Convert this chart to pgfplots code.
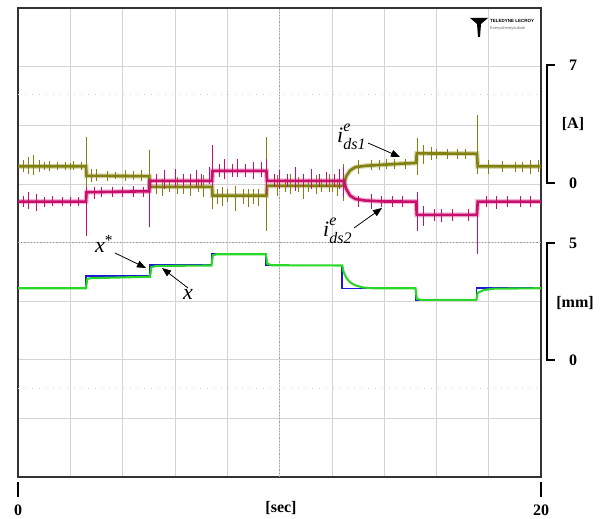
\documentclass[border=0pt]{standalone}
\usepackage{pgfplots}
\pgfplotsset{compat=1.18}
\usepackage{fontspec}
\setmainfont{Liberation Serif}
\setsansfont{Liberation Sans}
\usetikzlibrary{arrows.meta}
\definecolor{olivetr}{RGB}{130,128,15}
\definecolor{magtr}{RGB}{200,15,110}
\definecolor{gtr}{RGB}{40,215,40}
\definecolor{btr}{RGB}{25,25,215}
\definecolor{gridc}{RGB}{212,212,212}
\pgfplotsset{base/.style={scale only axis, width=523pt, height=469pt, at={(0pt,0pt)}, anchor=south west, xmin=0, xmax=20, clip=true}}
\newcommand\ilabel[1]{{\fontsize{22}{26}\selectfont\itshape i}\rlap{\raisebox{11pt}{\fontsize{16}{16}\selectfont\itshape e}}\raisebox{-7pt}{\fontsize{16}{16}\selectfont\itshape ds#1}}
\pgfplotstableread{
t i
0 1.05
2.6 1.05
2.62 0.48
5.02 0.46
5.04 -0.18
7.42 -0.18
7.44 -0.7
9.5 -0.7
9.52 -0.12
12.45 -0.12
12.55 0.45
12.7 0.8
12.9 1.0
13.3 1.08
14.6 1.2
15.22 1.25
15.25 1.82
17.55 1.8
17.58 1.04
20 1.04
}\idsone
\pgfplotstableread{
t i
0 -1.06
2.6 -1.06
2.62 -0.5
5.02 -0.44
5.04 0.18
7.42 0.18
7.44 0.78
9.5 0.78
9.52 0.18
12.45 0.18
12.55 -0.3
12.7 -0.7
12.9 -0.9
13.3 -1.0
14.0 -1.05
15.22 -1.06
15.25 -1.85
17.55 -1.85
17.58 -1.06
20 -1.06
}\idstwo
\begin{document}
\begin{tikzpicture}[x=1pt,y=1pt]
\path[use as bounding box] (-18,-42) rectangle (585,477);
% grid axis
\begin{axis}[base, ymin=0, ymax=8, xtick={0,2,...,20}, ytick={0,1,...,8},
  xticklabels={}, yticklabels={}, major tick length=0pt, grid=major,
  grid style={gridc, line width=0.6pt}, axis line style={black!80, line width=1.3pt}]
\addplot[gray!75, dash pattern=on 1.2pt off 2pt, line width=0.7pt] coordinates {(10,0) (10,8)};
\addplot[gray!75, dash pattern=on 1.2pt off 2pt, line width=0.7pt] coordinates {(0,4) (20,4)};
\addplot[gridc, dash pattern=on 1pt off 6pt, line width=0.7pt] coordinates {(0,6.52) (20,6.52)};
\addplot[gridc, dash pattern=on 1pt off 6pt, line width=0.7pt] coordinates {(0,1.52) (20,1.52)};
\end{axis}
% currents
\begin{axis}[base, ymin=-17.5, ymax=10.5, hide axis, unbounded coords=jump]
\addplot[olivetr, line width=5pt, opacity=0.3] table[x=t,y=i] {\idsone};
\addplot[olivetr, line width=0.45pt] coordinates {
(0.2,0.7)(0.2,1.4)(0.2,nan)(0.4,0.6)(0.4,1.6)(0.4,nan)(0.6,0.5)(0.6,1.7)(0.6,nan)(0.8,0.7)(0.8,1.4)(0.8,nan)
(1.0,0.8)(1.0,1.3)(1.0,nan)(1.2,0.75)(1.2,1.35)(1.2,nan)(1.5,0.8)(1.5,1.3)(1.5,nan)(1.8,0.8)(1.8,1.3)(1.8,nan)(2.0,0.85)(2.0,1.25)(2.0,nan)(2.1,0.8)(2.1,1.35)(2.1,nan)(2.4,0.85)(2.4,1.3)(2.4,nan)
(2.6,-0.2)(2.6,2.8)(2.6,nan)(2.8,0.1)(2.8,0.9)(2.8,nan)(3.0,0.2)(3.0,0.9)(3.0,nan)(3.4,0.2)(3.4,0.75)(3.4,nan)(3.7,0.3)(3.7,0.7)(3.7,nan)(4.1,0.2)(4.1,0.8)(4.1,nan)(4.4,0.25)(4.4,0.75)(4.4,nan)(4.7,0.2)(4.7,0.8)(4.7,nan)
(5.02,-1.9)(5.02,2.0)(5.02,nan)(5.3,-0.6)(5.3,0.3)(5.3,nan)(5.5,-0.7)(5.5,0.3)(5.5,nan)(5.8,-0.5)(5.8,0.2)(5.8,nan)(6.1,-0.6)(6.1,0.4)(6.1,nan)(6.3,-0.6)(6.3,0.2)(6.3,nan)(6.6,-0.7)(6.6,0.3)(6.6,nan)(6.9,-0.5)(6.9,0.3)(6.9,nan)(7.1,-0.8)(7.1,0.5)(7.1,nan)
(7.44,-1.5)(7.44,0.6)(7.44,nan)(7.6,-1.2)(7.6,-0.3)(7.6,nan)(7.8,-1.3)(7.8,-0.2)(7.8,nan)(8.0,-1.1)(8.0,-0.3)(8.0,nan)(8.3,-1.6)(8.3,-0.1)(8.3,nan)(8.6,-1.2)(8.6,-0.3)(8.6,nan)(8.8,-1.4)(8.8,-0.3)(8.8,nan)(9.0,-1.2)(9.0,-0.3)(9.0,nan)(9.2,-1.3)(9.2,-0.3)(9.2,nan)
(9.5,-2.8)(9.5,2.8)(9.5,nan)(9.9,-0.7)(9.9,0.5)(9.9,nan)(10.2,-0.5)(10.2,0.3)(10.2,nan)(10.4,-0.6)(10.4,0.6)(10.4,nan)(10.7,-0.5)(10.7,0.4)(10.7,nan)(10.9,-0.9)(10.9,0.4)(10.9,nan)(11.1,-0.5)(11.1,0.3)(11.1,nan)(11.4,-0.6)(11.4,0.5)(11.4,nan)(11.6,-0.5)(11.6,0.3)(11.6,nan)(11.9,-0.5)(11.9,0.6)(11.9,nan)(12.0,-0.5)(12.0,0.3)(12.0,nan)(12.2,-0.7)(12.2,0.3)(12.2,nan)
(12.45,-1.0)(12.45,1.2)(12.45,nan)(13.0,0.6)(13.0,1.4)(13.0,nan)(13.5,0.8)(13.5,1.4)(13.5,nan)(13.8,0.8)(13.8,1.4)(13.8,nan)(14.1,0.9)(14.1,1.5)(14.1,nan)(14.4,0.9)(14.4,1.5)(14.4,nan)(14.8,0.9)(14.8,1.5)(14.8,nan)
(15.25,0.5)(15.25,2.75)(15.25,nan)(15.5,1.2)(15.5,2.3)(15.5,nan)(15.8,1.4)(15.8,2.2)(15.8,nan)(16.0,1.5)(16.0,2.1)(16.0,nan)(16.4,1.5)(16.4,2.1)(16.4,nan)(16.8,1.5)(16.8,2.1)(16.8,nan)(17.1,1.5)(17.1,2.1)(17.1,nan)
(17.55,0.6)(17.55,4.1)(17.55,nan)(18.0,0.6)(18.0,1.4)(18.0,nan)(18.5,0.7)(18.5,1.35)(18.5,nan)(19.0,0.7)(19.0,1.3)(19.0,nan)(19.3,0.7)(19.3,1.3)(19.3,nan)(19.6,0.6)(19.6,1.4)(19.6,nan)(19.9,0.7)(19.9,1.4)(19.9,nan)
};
\addplot[olivetr, line width=2.6pt] table[x=t,y=i] {\idsone};
\addplot[magtr, line width=5pt, opacity=0.3] table[x=t,y=i] {\idstwo};
\addplot[magtr, line width=0.45pt] coordinates {
(0.2,-1.4)(0.2,-0.7)(0.2,nan)(0.4,-1.5)(0.4,-0.5)(0.4,nan)(0.7,-1.6)(0.7,-0.6)(0.7,nan)(1.0,-1.4)(1.0,-0.8)(1.0,nan)(1.3,-1.35)(1.3,-0.75)(1.3,nan)(1.7,-1.3)(1.7,-0.8)(1.7,nan)(2.0,-1.35)(2.0,-0.8)(2.0,nan)(2.3,-1.3)(2.3,-0.8)(2.3,nan)
(2.6,-3.1)(2.6,-0.2)(2.6,nan)(2.9,-0.9)(2.9,-0.2)(2.9,nan)(3.2,-0.8)(3.2,-0.2)(3.2,nan)(3.6,-0.8)(3.6,-0.2)(3.6,nan)(4.0,-0.8)(4.0,-0.2)(4.0,nan)(4.4,-0.8)(4.4,-0.15)(4.4,nan)(4.8,-0.8)(4.8,-0.2)(4.8,nan)
(5.0,-2.6)(5.0,0.2)(5.0,nan)(5.3,-0.2)(5.3,0.6)(5.3,nan)(5.6,-0.3)(5.6,0.8)(5.6,nan)(6.0,-0.2)(6.0,0.9)(6.0,nan)(6.3,-0.2)(6.3,0.6)(6.3,nan)(6.6,-0.1)(6.6,0.6)(6.6,nan)(6.8,-0.2)(6.8,0.8)(6.8,nan)(7.0,-0.1)(7.0,0.6)(7.0,nan)(7.3,0)(7.3,1.0)(7.3,nan)
(7.42,-0.2)(7.42,2.3)(7.42,nan)(7.7,0.4)(7.7,1.2)(7.7,nan)(7.9,0.3)(7.9,1.5)(7.9,nan)(8.2,0.4)(8.2,1.2)(8.2,nan)(8.4,0.4)(8.4,1.5)(8.4,nan)(8.7,0.4)(8.7,1.2)(8.7,nan)(9.0,0.3)(9.0,1.3)(9.0,nan)(9.3,0.4)(9.3,1.3)(9.3,nan)
(9.5,-0.6)(9.5,1.5)(9.5,nan)(9.8,-0.2)(9.8,0.6)(9.8,nan)(10.0,-0.3)(10.0,0.8)(10.0,nan)(10.3,-0.2)(10.3,0.6)(10.3,nan)(10.6,-0.4)(10.6,1.0)(10.6,nan)(10.9,-0.2)(10.9,0.6)(10.9,nan)(11.2,-0.3)(11.2,0.9)(11.2,nan)(11.5,-0.2)(11.5,0.6)(11.5,nan)(11.8,-0.2)(11.8,0.7)(11.8,nan)(12.1,-0.2)(12.1,0.6)(12.1,nan)(12.3,-0.3)(12.3,0.9)(12.3,nan)
(12.45,-0.8)(12.45,1.0)(12.45,nan)(13.0,-1.4)(13.0,-0.7)(13.0,nan)(13.5,-1.5)(13.5,-0.6)(13.5,nan)(13.9,-1.4)(13.9,-0.7)(13.9,nan)(14.3,-1.4)(14.3,-0.7)(14.3,nan)(14.7,-1.4)(14.7,-0.7)(14.7,nan)
(15.25,-2.8)(15.25,-0.5)(15.25,nan)(15.5,-2.5)(15.5,-1.3)(15.5,nan)(15.9,-2.2)(15.9,-1.5)(15.9,nan)(16.2,-2.3)(16.2,-1.5)(16.2,nan)(16.6,-2.2)(16.6,-1.5)(16.6,nan)(17.2,-2.2)(17.2,-1.5)(17.2,nan)
(17.55,-4.2)(17.55,-1.0)(17.55,nan)(17.9,-1.4)(17.9,-0.7)(17.9,nan)(18.3,-1.5)(18.3,-0.7)(18.3,nan)(18.7,-1.4)(18.7,-0.7)(18.7,nan)(19.2,-1.4)(19.2,-0.7)(19.2,nan)(19.6,-1.4)(19.6,-0.7)(19.6,nan)
};
\addplot[magtr, line width=2.6pt] table[x=t,y=i] {\idstwo};
\end{axis}
% positions
\begin{axis}[base, ymin=-5, ymax=15, hide axis]
\addplot[btr, line width=1.6pt] coordinates {
(0,3.05)(2.6,3.05)(2.6,3.56)(5.05,3.56)(5.05,4.04)(7.4,4.04)(7.4,4.52)(9.48,4.52)(9.48,4.02)(12.4,4.02)
(12.4,3.03)(15.2,3.03)(15.2,2.53)(17.53,2.53)(17.53,3.07)(20,3.07)};
\addplot[gtr, line width=2.1pt] coordinates {
(0,3.05)(2.6,3.05)(2.65,3.45)(2.8,3.48)(5.05,3.54)(5.1,3.95)(5.3,4.0)(7.4,4.02)(7.45,4.45)(7.6,4.5)(9.48,4.5)
(9.53,4.1)(9.7,4.03)(12.4,4.02)(12.45,3.75)(12.55,3.5)(12.7,3.3)(12.9,3.17)(13.2,3.08)(13.6,3.05)(15.2,3.05)
(15.25,2.6)(15.4,2.55)(17.53,2.55)(17.58,2.85)(17.8,2.97)(18.2,3.03)(20,3.05)};
\end{axis}
% annotations
\node[anchor=base west, inner sep=0pt] at (319,334) {\ilabel{1}};
\draw[line width=0.8pt, -{Triangle[length=9pt,width=7pt]}] (350,334) -- (382,320);
\node[anchor=base west, inner sep=0pt] at (305,240) {\ilabel{2}};
\draw[line width=0.8pt, -{Triangle[length=9pt,width=7pt]}] (336,249) -- (364,269);
\node[anchor=base west, inner sep=0pt, font=\fontsize{22}{26}\selectfont] at (77,224) {\textit{x}\textsuperscript{*}};
\draw[line width=0.8pt, -{Triangle[length=9pt,width=7pt]}] (97,224) -- (128,209);
\node[anchor=base west, inner sep=0pt, font=\fontsize{22}{26}\selectfont] at (165,177) {\textit{x}};
\draw[line width=0.8pt, -{Triangle[length=9pt,width=7pt]}] (170,189) -- (144,209);
% logo
\fill[black] (452,459) -- (470,459) -- (463,453) -- (462,440) -- (460,440) -- (459,453) -- cycle;
\node[anchor=west, inner sep=0pt, font=\sffamily\fontsize{4.5}{5}\selectfont\bfseries] at (472,456) {TELEDYNE LECROY};
\node[anchor=west, inner sep=0pt, font=\sffamily\fontsize{4}{5}\selectfont, gray!80!black] at (472,449) {Everywhereyoulook};
% right scale brackets
\draw[line width=1.5pt] (537,412) -- (529,412) -- (529,294) -- (537,294);
\node[font=\fontsize{16}{18}\selectfont\bfseries] at (555,412) {7};
\node[font=\fontsize{16}{18}\selectfont\bfseries] at (555,353) {[A]};
\node[font=\fontsize{16}{18}\selectfont\bfseries] at (555,294) {0};
\draw[line width=1.5pt] (537,234) -- (529,234) -- (529,117) -- (537,117);
\node[font=\fontsize{16}{18}\selectfont\bfseries] at (555,234) {5};
\node[font=\fontsize{16}{18}\selectfont\bfseries] at (557,174) {[mm]};
\node[font=\fontsize{16}{18}\selectfont\bfseries] at (555,117) {0};
% bottom axis labels
\draw[line width=1.5pt] (0,-5) -- (0,-20);
\draw[line width=1.5pt] (523,-5) -- (523,-20);
\node[font=\fontsize{16}{18}\selectfont\bfseries] at (0,-33) {0};
\node[font=\fontsize{16}{18}\selectfont\bfseries] at (523,-33) {20};
\node[font=\fontsize{16}{18}\selectfont\bfseries] at (263,-31) {[sec]};
\end{tikzpicture}
\end{document}
